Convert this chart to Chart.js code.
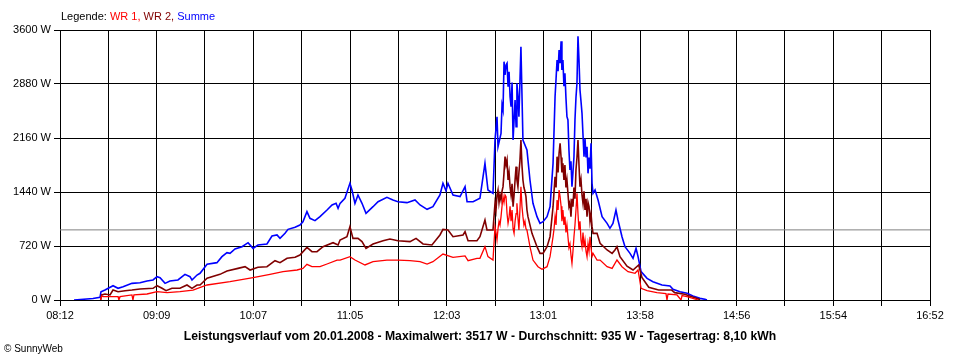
<!DOCTYPE html>
<html>
<head>
<meta charset="utf-8">
<script src="https://cdn.jsdelivr.net/npm/chart.js@4/dist/chart.umd.min.js"></script>
<style>
  body { margin: 0; background: #fff; }
  #wrap { position: relative; width: 960px; height: 360px; font-family: 'Liberation Sans', Arial, sans-serif; }
  #legend { position: absolute; left: 61px; top: 10px; font-size: 11px; color: #000; }
  #footer { position: absolute; left: 0; top: 329px; width: 960px; text-align: center; font-size: 12.2px; font-weight: bold; }
  #copy { position: absolute; left: 4px; top: 343px; font-size: 10px; }
</style>
</head>
<body>
<div id="wrap">
  <canvas id="powerChart" width="960" height="360"></canvas>
  <div id="legend">Legende: <span style="color:#ff0000">WR 1,</span> <span style="color:#800000">WR 2,</span> <span style="color:#0000ff">Summe</span></div>
  <div id="footer">Leistungsverlauf vom 20.01.2008 - Maximalwert: 3517 W - Durchschnitt: 935 W - Tagesertrag: 8,10 kWh</div>
  <div id="copy">&copy; SunnyWeb</div>
</div>
<script>
// time in minutes since midnight, power in W
const timeLabels = ['08:12', '09:09', '10:07', '11:05', '12:03', '13:01', '13:58', '14:56', '15:54', '16:52'];
const startMin = 492;
const endMin = 1012;
const averagePower = 935;

const sumTime = [500.4, 511.7, 515.9, 516.5, 518.9, 523.7, 526.7, 529.7, 535.0, 539.8, 544.0, 547.6, 550.0, 551.8, 554.8, 557.7, 562.5, 566.7, 569.7, 570.9, 573.9, 575.7, 579.9, 585.8, 588.8, 591.8, 593.6, 596.6, 600.8, 604.4, 607.4, 610.3, 615.7, 618.7, 621.7, 623.5, 626.5, 628.3, 632.5, 635.4, 637.2, 639.6, 641.4, 644.4, 647.4, 651.6, 654.6, 657.0, 658.2, 659.4, 662.3, 665.3, 666.5, 668.3, 670.1, 672.5, 674.9, 679.1, 682.1, 687.4, 691.0, 694.0, 699.4, 704.2, 707.2, 711.4, 714.9, 719.1, 720.9, 722.7, 723.9, 726.9, 731.1, 734.1, 735.3, 738.9, 743.0, 746.0, 747.8, 750.8, 752.0, 753.2, 753.8,
  755.6, 756.2, 756.8, 757.4, 758.0, 758.6, 759.2, 759.8, 760.4, 761.0, 761.6, 762.2, 762.8, 763.4, 764.0, 764.6, 765.1, 765.7, 766.3, 766.9, 767.5, 768.1, 768.7, 771.1, 772.9, 774.7, 777.1, 778.9, 780.7, 783.1, 784.9, 786.7,
  787.9, 788.5, 789.1, 789.7, 790.3, 790.9, 791.5, 792.0, 792.6, 793.2, 793.8, 794.4, 795.0, 795.6, 796.2, 796.8, 797.4, 798.0, 798.6, 799.2, 799.8, 800.4, 801.0, 801.6, 802.2, 802.8, 803.4, 804.0, 804.6, 805.2, 805.8, 806.4, 807.0, 807.6, 808.2, 808.8, 809.4, 810.0,
  810.6, 811.8, 813.6, 816.0, 819.0, 820.7, 822.5, 824.3, 825.5, 827.9, 829.7, 832.7, 834.5, 836.3, 837.5, 839.3, 842.9, 846.4, 851.8, 856.6, 858.4, 862.6, 866.8, 870.3, 874.5, 877.5, 878.7];
const sumPower = [0, 20, 36, 110, 133, 191, 156, 178, 222, 231, 253, 267, 311, 298, 222, 253, 267, 342, 311, 267, 333, 356, 476, 498, 578, 631, 622, 680, 711, 764, 689, 733, 747, 853, 867, 822, 889, 942, 969, 1000, 1044, 1178, 1089, 1058, 1111, 1200, 1267, 1289, 1222, 1289, 1356, 1556, 1467, 1289, 1400, 1289, 1156, 1244, 1311, 1369, 1333, 1311, 1298, 1333, 1267, 1209, 1244, 1400, 1556, 1458, 1556, 1400, 1378, 1511, 1311, 1311, 1356, 1822, 1467, 1422, 2133, 2444, 2044,
  2222, 2600, 2533, 3178, 3000, 3133, 3156, 2844, 3044, 2711, 2578, 2900, 2133, 2400, 2667, 2311, 2889, 2711, 2444, 2900, 3378, 2756, 2133, 2000, 1600, 1289, 1111, 1022, 1044, 1111, 1244, 1822,
  2711, 2950, 3200, 3050, 3333, 3156, 3450, 3067, 3200, 2850, 3022, 2700, 2444, 2400, 2000, 1733, 1850, 1511, 1700, 1911, 2400, 2700, 2889, 3517, 3200, 2800, 2650, 2489, 2200, 1911, 2150, 1900, 2044, 1689, 1900, 1750, 2089, 1556,
  1422, 1467, 1333, 1111, 1022, 956, 1022, 1200, 1067, 844, 711, 622, 556, 689, 578, 378, 289, 244, 200, 187, 142, 111, 89, 53, 22, 9, 0];

const wr2Time = [516.3, 516.9, 518.9, 521.9, 523.7, 526.7, 530.9, 535.0, 539.8, 547.6, 550.0, 553.0, 555.4, 558.9, 563.7, 567.9, 570.9, 573.9, 575.7, 579.9, 587.6, 591.8, 598.4, 602.6, 605.6, 610.3, 615.7, 620.5, 623.5, 627.7, 632.5, 635.4, 639.6, 642.6, 645.6, 649.2, 655.2, 658.2, 659.4, 663.5, 665.3, 667.1, 670.1, 672.5, 674.9, 679.1, 685.1, 689.2, 694.0, 701.2, 704.8, 709.0, 714.3, 719.1, 720.9, 723.9, 726.9, 732.9, 734.1, 735.9, 741.2, 743.0, 746.0, 747.2, 750.8,
  752.0, 752.6, 753.2, 753.8, 754.4, 755.0, 755.6, 756.2, 756.8, 757.4, 758.0, 758.6, 759.2, 759.8, 760.4, 761.0, 761.6, 762.2, 762.8, 763.4, 764.0, 764.6, 765.1, 765.7, 766.3, 766.9, 767.5, 768.1, 768.7, 769.3, 769.9, 770.5, 771.1, 771.7,
  774.1, 777.1, 778.9, 780.7, 783.1, 784.9,
  786.7, 787.3, 787.9, 788.5, 789.1, 789.7, 790.3, 790.9, 791.5, 792.0, 792.6, 793.2, 793.8, 794.4, 795.0, 795.6, 796.2, 796.8, 797.4, 798.0, 798.6, 799.2, 799.8, 800.4, 801.0, 801.6, 802.2, 802.8, 803.4, 804.0, 804.6, 805.2, 805.8, 806.4, 807.0, 807.6, 808.2, 808.8, 809.4, 810.0,
  810.6, 813.0, 814.8, 819.0, 822.0, 823.7, 824.9, 826.7, 830.9, 834.5, 837.9, 839.8, 843.9, 849.8, 857.6, 859.4, 865.4, 869.6, 873.7, 874.5];
const wr2Power = [0, 67, 80, 67, 133, 111, 124, 133, 147, 156, 191, 156, 124, 156, 156, 200, 156, 200, 200, 290, 342, 387, 422, 444, 400, 436, 444, 524, 498, 556, 569, 600, 702, 644, 644, 711, 764, 733, 800, 844, 978, 822, 822, 778, 689, 747, 791, 813, 791, 778, 822, 747, 733, 867, 942, 933, 844, 867, 911, 791, 791, 844, 1067, 933, 933,
  1289, 1200, 1400, 1467, 1300, 1400, 1333, 1450, 1511, 1700, 1911, 1800, 1867, 1600, 1700, 1511, 1400, 1550, 1244, 1400, 1600, 1778, 1600, 1511, 1700, 1850, 2133, 1800, 1600, 1500, 1450, 1378, 1200, 1111,
  889, 711, 622, 622, 711, 844,
  1244, 1450, 1644, 1500, 1911, 1700, 1956, 2089, 1900, 1700, 1822, 1600, 1800, 1500, 1600, 1422, 1250, 1300, 1111, 1350, 1244, 1500, 1350, 1733, 1900, 2133, 1800, 1511, 1600, 1400, 1289, 1450, 1200, 1350, 1111, 1300, 1244, 1050, 1150, 978,
  889, 889, 756, 667, 622, 667, 711, 578, 450, 400, 467, 300, 169, 133, 133, 98, 76, 44, 13, 0];

const wr1Time = [516.3, 516.9, 517.7, 526.7, 527.2, 527.9, 535.0, 535.6, 536.2, 544.0, 550.0, 556.0, 563.7, 571.5, 579.9, 593.6, 607.4, 617.5, 625.3, 633.7, 637.2, 639.6, 642.6, 647.4, 651.6, 657.6, 659.4, 665.3, 668.3, 674.3, 679.1, 687.4, 694.0, 701.2, 707.2, 711.4, 714.9, 720.9, 726.9, 734.1, 735.9, 741.2, 743.0, 746.0, 747.8, 750.8,
  752.0, 752.6, 753.2, 753.8, 754.4, 755.0, 755.6, 756.2, 756.8, 757.4, 758.0, 758.6, 759.2, 759.8, 760.4, 761.0, 761.6, 762.2, 762.8, 763.4, 764.0, 764.6, 765.1, 765.7, 766.3, 766.9, 767.5, 768.1, 768.7, 769.3, 769.9, 770.5, 771.1,
  772.9, 774.7, 777.7, 780.1, 783.1, 784.9,
  786.7, 787.3, 787.9, 788.5, 789.1, 789.7, 790.3, 790.9, 791.5, 792.0, 792.6, 793.2, 793.8, 794.4, 795.0, 795.6, 796.2, 796.8, 797.4, 798.0, 798.6, 799.2, 799.8, 800.4, 801.0, 801.6, 802.2, 802.8, 803.4, 804.0, 804.6, 805.2, 805.8, 806.4, 807.0, 807.6, 808.2, 808.8, 809.4, 810.0,
  810.6, 813.0, 814.8, 819.0, 822.0, 824.9, 827.9, 831.5, 835.7, 837.5, 839.3, 842.9, 848.8, 854.2, 854.8, 855.4, 860.8, 863.2, 863.8, 866.8, 870.3, 873.3];
const wr1Power = [0, 53, 44, 44, 0, 44, 67, 0, 67, 80, 111, 98, 111, 133, 200, 244, 298, 342, 378, 400, 422, 476, 444, 444, 480, 533, 533, 578, 533, 467, 511, 533, 533, 524, 511, 480, 511, 613, 569, 587, 524, 556, 556, 711, 578, 533,
  978, 900, 800, 950, 1050, 1000, 1111, 1250, 1378, 1300, 1400, 1378, 1150, 1022, 1100, 1250, 1050, 1200, 950, 889, 1050, 1150, 1289, 1100, 933, 1200, 1511, 1250, 1111, 1000, 1050, 950, 933,
  711, 533, 444, 409, 444, 578,
  844, 950, 1111, 1000, 1333, 1200, 1467, 1378, 1250, 1050, 1200, 1000, 1111, 900, 1000, 844, 700, 750, 600, 489, 650, 844, 1000, 1200, 1422, 1150, 933, 1050, 800, 711, 900, 700, 800, 650, 578, 750, 650, 844, 700, 578,
  622, 533, 533, 444, 422, 533, 444, 378, 356, 400, 156, 124, 98, 85, 0, 80, 67, 0, 60, 44, 22, 0];

function toPoints(times, values) {
  return times.map((t, i) => ({ x: t, y: values[i] }));
}

const xStep = (endMin - startMin) / 18;

const data = {
  datasets: [
    {
      label: 'WR 1',
      data: toPoints(wr1Time, wr1Power),
      borderColor: '#ff0000',
      borderWidth: 1.3,
    },
    {
      label: 'WR 2',
      data: toPoints(wr2Time, wr2Power),
      borderColor: '#800000',
      borderWidth: 1.6,
    },
    {
      label: 'Summe',
      data: toPoints(sumTime, sumPower),
      borderColor: '#0000ff',
      borderWidth: 1.6,
    },
    {
      label: 'Durchschnitt',
      data: [{ x: startMin, y: averagePower }, { x: endMin, y: averagePower }],
      borderColor: '#808080',
      borderWidth: 1,
    },
  ],
};

const tickFont = { family: "'Liberation Sans', Arial, sans-serif", size: 11 };

const config = {
  type: 'line',
  data: data,
  options: {
    responsive: false,
    animation: false,
    devicePixelRatio: 1,
    elements: { point: { radius: 0 }, line: { tension: 0 } },
    layout: { padding: { top: 30, right: 30, left: 0, bottom: 0 } },
    plugins: { legend: { display: false }, tooltip: { enabled: false } },
    scales: {
      x: {
        type: 'linear',
        min: startMin,
        max: endMin,
        afterBuildTicks: (scale) => {
          scale.ticks = [];
          for (let i = 0; i <= 18; i++) scale.ticks.push({ value: startMin + i * xStep });
        },
        afterFit: (scale) => { scale.height = 60; },
        grid: { color: '#000', lineWidth: 1, tickLength: 6 },
        border: { color: '#000', width: 1 },
        ticks: {
          autoSkip: false,
          maxRotation: 0,
          padding: 3,
          color: '#000',
          font: tickFont,
          callback: (value, index) => (index % 2 === 0 ? timeLabels[index / 2] : ''),
        },
      },
      y: {
        min: 0,
        max: 3600,
        afterFit: (scale) => { scale.width = 60; },
        grid: { color: '#000', lineWidth: 1, tickLength: 6 },
        border: { color: '#000', width: 1 },
        ticks: {
          stepSize: 720,
          padding: 3,
          color: '#000',
          font: tickFont,
          callback: (value) => value + ' W',
        },
      },
    },
  },
};

const ctx = document.getElementById('powerChart').getContext('2d');
const powerChart = new Chart(ctx, config);
</script>
</body>
</html>
